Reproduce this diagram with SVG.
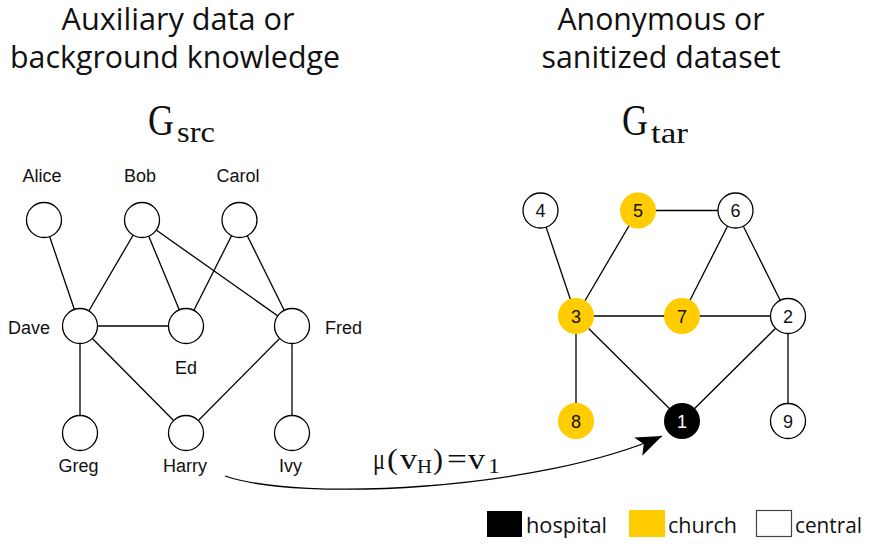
<svg xmlns="http://www.w3.org/2000/svg" width="870" height="544" viewBox="0 0 870 544">
<defs>
<style>
.title{font-family:"Open Sans","Noto Sans",sans-serif;font-size:31px;fill:#111;text-anchor:middle}
.math{font-family:"Liberation Serif","DejaVu Serif",serif;fill:#111}
.lbl{font-family:"Liberation Sans",Arial,sans-serif;font-size:18px;fill:#111}
.num{font-family:"Liberation Sans",Arial,sans-serif;font-size:18px;fill:#111;text-anchor:middle}
.node{fill:#fff;stroke:#000;stroke-width:1.3}
.yel{fill:#FFCC00;stroke:none}
.blk{fill:#000;stroke:none}
.edge{stroke:#000;stroke-width:1.3;fill:none}
.leg{font-family:"Open Sans","Noto Sans",sans-serif;font-size:22px;fill:#111}
</style>
<marker id="arr" markerUnits="userSpaceOnUse" markerWidth="30" markerHeight="24" viewBox="-28 -12 30 24" refX="0" refY="0" orient="auto">
<path d="M0,0 L-26,-10 L-20,0 L-26,10 Z" fill="#000"/>
</marker>
</defs>
<rect width="870" height="544" fill="#fff"/>

<g id="titles">
<text class="title" x="178" y="30" textLength="233" lengthAdjust="spacingAndGlyphs">Auxiliary data or</text>
<text class="title" x="175" y="68" textLength="330" lengthAdjust="spacingAndGlyphs">background knowledge</text>
<text class="title" x="661" y="30" textLength="207" lengthAdjust="spacingAndGlyphs">Anonymous or</text>
<text class="title" x="661" y="68" textLength="239" lengthAdjust="spacingAndGlyphs">sanitized dataset</text>
<text class="math" x="148" y="135" font-size="44" textLength="26" lengthAdjust="spacingAndGlyphs">G</text>
<text class="math" x="177" y="142" font-size="29" textLength="38" lengthAdjust="spacingAndGlyphs">src</text>
<text class="math" x="622" y="135" font-size="44" textLength="26" lengthAdjust="spacingAndGlyphs">G</text>
<text class="math" x="651" y="143" font-size="29" textLength="37" lengthAdjust="spacingAndGlyphs">tar</text>
</g>

<g id="connectors">
<line class="edge" x1="44" y1="220" x2="80" y2="326"/>
<line class="edge" x1="142" y1="220" x2="80" y2="326"/>
<line class="edge" x1="142" y1="220" x2="186" y2="326"/>
<line class="edge" x1="142" y1="220" x2="292" y2="326"/>
<line class="edge" x1="239.5" y1="220" x2="186" y2="326"/>
<line class="edge" x1="239.5" y1="220" x2="292" y2="326"/>
<line class="edge" x1="80" y1="326" x2="186" y2="326"/>
<line class="edge" x1="80" y1="326" x2="80" y2="433"/>
<line class="edge" x1="80" y1="326" x2="186" y2="433"/>
<line class="edge" x1="292" y1="326" x2="186" y2="433"/>
<line class="edge" x1="292" y1="326" x2="292" y2="433"/>

<line class="edge" x1="540.5" y1="210.5" x2="576" y2="316"/>
<line class="edge" x1="638" y1="210.5" x2="576" y2="316"/>
<line class="edge" x1="638" y1="210.5" x2="735.5" y2="210.5"/>
<line class="edge" x1="735.5" y1="210.5" x2="682" y2="316"/>
<line class="edge" x1="735.5" y1="210.5" x2="788" y2="316"/>
<line class="edge" x1="576" y1="316" x2="788" y2="316"/>
<line class="edge" x1="576" y1="316" x2="576" y2="421"/>
<line class="edge" x1="576" y1="316" x2="682" y2="421"/>
<line class="edge" x1="788" y1="316" x2="682" y2="421"/>
<line class="edge" x1="788" y1="316" x2="788" y2="421"/>

<path class="edge" stroke-width="2" d="M225,476 C300,502 540,490 662,436" marker-end="url(#arr)"/>
</g>

<g id="n-alice"><circle class="node" cx="44" cy="220" r="17.5"/><text class="lbl" x="42" y="182" text-anchor="middle">Alice</text></g>
<g id="n-bob"><circle class="node" cx="142" cy="220" r="17.5"/><text class="lbl" x="140" y="182" text-anchor="middle">Bob</text></g>
<g id="n-carol"><circle class="node" cx="239.5" cy="220" r="17.5"/><text class="lbl" x="238" y="182" text-anchor="middle">Carol</text></g>
<g id="n-dave"><circle class="node" cx="80" cy="326" r="17.5"/><text class="lbl" x="50" y="334" text-anchor="end">Dave</text></g>
<g id="n-ed"><circle class="node" cx="186" cy="326" r="17.5"/><text class="lbl" x="186" y="374" text-anchor="middle">Ed</text></g>
<g id="n-fred"><circle class="node" cx="292" cy="326" r="17.5"/><text class="lbl" x="325" y="334">Fred</text></g>
<g id="n-greg"><circle class="node" cx="80" cy="433" r="17.5"/><text class="lbl" x="78.5" y="472" text-anchor="middle">Greg</text></g>
<g id="n-harry"><circle class="node" cx="186" cy="433" r="17.5"/><text class="lbl" x="185" y="472" text-anchor="middle">Harry</text></g>
<g id="n-ivy"><circle class="node" cx="292" cy="433" r="17.5"/><text class="lbl" x="290.5" y="472" text-anchor="middle">Ivy</text></g>

<g id="n4"><circle class="node" cx="540.5" cy="210.5" r="17.5"/><text class="num" x="540.5" y="217">4</text></g>
<g id="n5"><circle class="yel" cx="638" cy="210.5" r="18"/><text class="num" x="638" y="217">5</text></g>
<g id="n6"><circle class="node" cx="735.5" cy="210.5" r="17.5"/><text class="num" x="735.5" y="217">6</text></g>
<g id="n3"><circle class="yel" cx="576" cy="316" r="18"/><text class="num" x="576" y="322.5">3</text></g>
<g id="n7"><circle class="yel" cx="682" cy="316" r="18"/><text class="num" x="682" y="322.5">7</text></g>
<g id="n2"><circle class="node" cx="788" cy="316" r="17.5"/><text class="num" x="788" y="322.5">2</text></g>
<g id="n8"><circle class="yel" cx="576" cy="421" r="18"/><text class="num" x="576" y="427.5">8</text></g>
<g id="n1"><circle class="blk" cx="682" cy="421" r="18"/><text class="num" x="682" y="427.5" style="fill:#fff">1</text></g>
<g id="n9"><circle class="node" cx="788" cy="421" r="17.5"/><text class="num" x="788" y="427.5">9</text></g>

<g id="mapping-label" class="math">
<text x="373" y="469" font-size="29" textLength="12" lengthAdjust="spacingAndGlyphs">μ</text>
<text x="387" y="469" font-size="29" textLength="11" lengthAdjust="spacingAndGlyphs">(</text>
<text x="400" y="469" font-size="29" textLength="17" lengthAdjust="spacingAndGlyphs">v</text>
<text x="417" y="473" font-size="18" textLength="15" lengthAdjust="spacingAndGlyphs">H</text>
<text x="433" y="469" font-size="29" textLength="10" lengthAdjust="spacingAndGlyphs">)</text>
<text x="447" y="469" font-size="29" textLength="20" lengthAdjust="spacingAndGlyphs">=</text>
<text x="468" y="469" font-size="29" textLength="17" lengthAdjust="spacingAndGlyphs">v</text>
<text x="488" y="473" font-size="21" textLength="12" lengthAdjust="spacingAndGlyphs">1</text>
</g>

<g id="legend">
<rect x="487" y="511" width="35" height="26" fill="#000"/>
<text class="leg" x="526" y="533" textLength="81" lengthAdjust="spacingAndGlyphs">hospital</text>
<rect x="629" y="510" width="36" height="27" fill="#FFCC00"/>
<text class="leg" x="668" y="533" textLength="69" lengthAdjust="spacingAndGlyphs">church</text>
<rect x="756.5" y="510.5" width="35" height="26" fill="#fff" stroke="#444" stroke-width="1.2"/>
<text class="leg" x="795" y="533" textLength="67" lengthAdjust="spacingAndGlyphs">central</text>
</g>
</svg>
